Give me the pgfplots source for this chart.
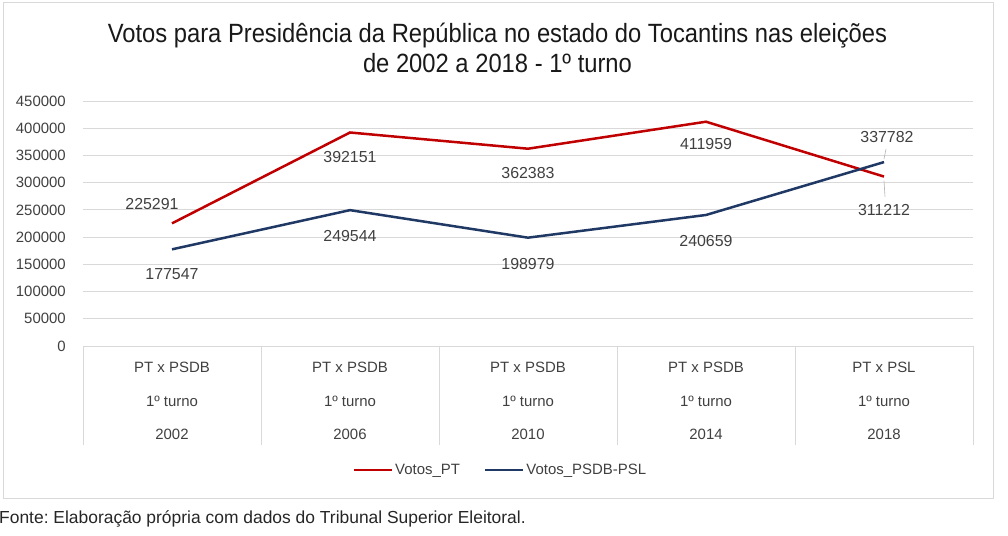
\documentclass[border=0pt]{standalone}
\usepackage{fontspec}
\setmainfont{Liberation Sans}
\newfontfamily\titlefont[FakeStretch=0.9]{Liberation Sans}
\usepackage{pgfplots}
\usepackage{pgfplotstable}
\pgfplotsset{compat=1.18}
\definecolor{ptred}{RGB}{192,0,0}
\definecolor{psdbblue}{RGB}{31,56,100}
\definecolor{gridgray}{RGB}{217,217,217}
\definecolor{txt}{RGB}{64,64,64}
\frenchspacing

\pgfplotstableread{
x y dx dy
0 225291 -20 19
1 392151 0 -25
2 362383 0 -24
3 411959 0 -22
4 311212 0 -33
}\ptdata
\pgfplotstableread{
x y dx dy
0 177547 0 -25
1 249544 0 -26
2 198979 0 -26
3 240659 0 -26
4 337782 3 25
}\psdbdata

\begin{document}
\begin{tikzpicture}
\path[use as bounding box] (0,0) rectangle (1008bp,-536bp);
\draw[gridgray, line width=0.8bp] (3bp,-2bp) rectangle (993bp,-498bp);
\node[font=\titlefont\fontsize{26.5}{30}\selectfont, align=center, text=black!90] at (497.5bp,-48bp)
  {Votos para Presidência da República no estado do Tocantins nas eleições\\de 2002 a 2018 - 1º turno};
\node[font=\fontsize{17.5}{20}\selectfont, anchor=west, inner sep=0pt, text=black!85] at (-1bp,-519bp)
  {Fonte: Elaboração própria com dados do Tribunal Superior Eleitoral.};
\begin{axis}[
  at={(83bp,-346bp)}, anchor=south west,
  scale only axis, width=890bp, height=245bp,
  xmin=-0.5, xmax=4.5, ymin=0, ymax=450000,
  ytick={0,50000,...,450000},
  xtick={0,1,2,3,4},
  xticklabels={{PT x PSDB\\1º turno\\2002},{PT x PSDB\\1º turno\\2006},{PT x PSDB\\1º turno\\2010},{PT x PSDB\\1º turno\\2014},{PT x PSL\\1º turno\\2018}},
  xticklabel style={align=center, anchor=north, font=\fontsize{15}{33.5}\selectfont, text=txt, yshift=-13bp},
  yticklabel style={font=\fontsize{15}{17}\selectfont, text=txt, anchor=east, inner sep=0pt, xshift=-17bp},
  /pgf/number format/assume math mode=true,
  /pgf/number format/fixed,
  /pgf/number format/set thousands separator={},
  scaled y ticks=false,
  major tick length=0pt,
  axis line style={draw=none},
  ymajorgrids, grid style={gridgray, line width=0.8bp},
  clip=false,
  legend style={draw=none, at={(0.469,-0.506)}, anchor=center, font=\fontsize{15}{18}\selectfont, text=txt, legend columns=2, /tikz/every even column/.append style={column sep=22bp}},
  legend image code/.code={\draw[#1] (0bp,0bp) -- (38bp,0bp);},
]
\foreach \xx in {-0.5,0.5,1.5,2.5,3.5,4.5} {
  \edef\tmp{\noexpand\draw[gridgray, line width=0.8bp] (axis cs:\xx,0) -- ++(0bp,-99bp);}\tmp
}
\addplot[ptred, line width=2.5bp, mark=none,
  nodes near coords, point meta=explicit symbolic,
  visualization depends on={\thisrow{dx} \as \dx},
  visualization depends on={\thisrow{dy} \as \dy},
  every node near coord/.append style={anchor=center, xshift=\dx bp, yshift=\dy bp, font=\fontsize{16}{18}\selectfont, text=txt, inner sep=0pt}]
  table[x=x, y=y, meta=y] {\ptdata};
\addlegendentry{Votos\_PT}
\addplot[psdbblue, line width=2.5bp, mark=none,
  nodes near coords, point meta=explicit symbolic,
  visualization depends on={\thisrow{dx} \as \dx},
  visualization depends on={\thisrow{dy} \as \dy},
  every node near coord/.append style={anchor=center, xshift=\dx bp, yshift=\dy bp, font=\fontsize{16}{18}\selectfont, text=txt, inner sep=0pt}]
  table[x=x, y=y, meta=y] {\psdbdata};
\addlegendentry{Votos\_PSDB-PSL}
\draw[gray!60, line width=0.6bp] (axis cs:4,311212) ++(0bp,-4bp) -- ++(1bp,-16bp);
\draw[gray!60, line width=0.6bp] (axis cs:4,337782) ++(0bp,3bp) -- ++(2bp,10bp);
\end{axis}
\end{tikzpicture}
\end{document}
